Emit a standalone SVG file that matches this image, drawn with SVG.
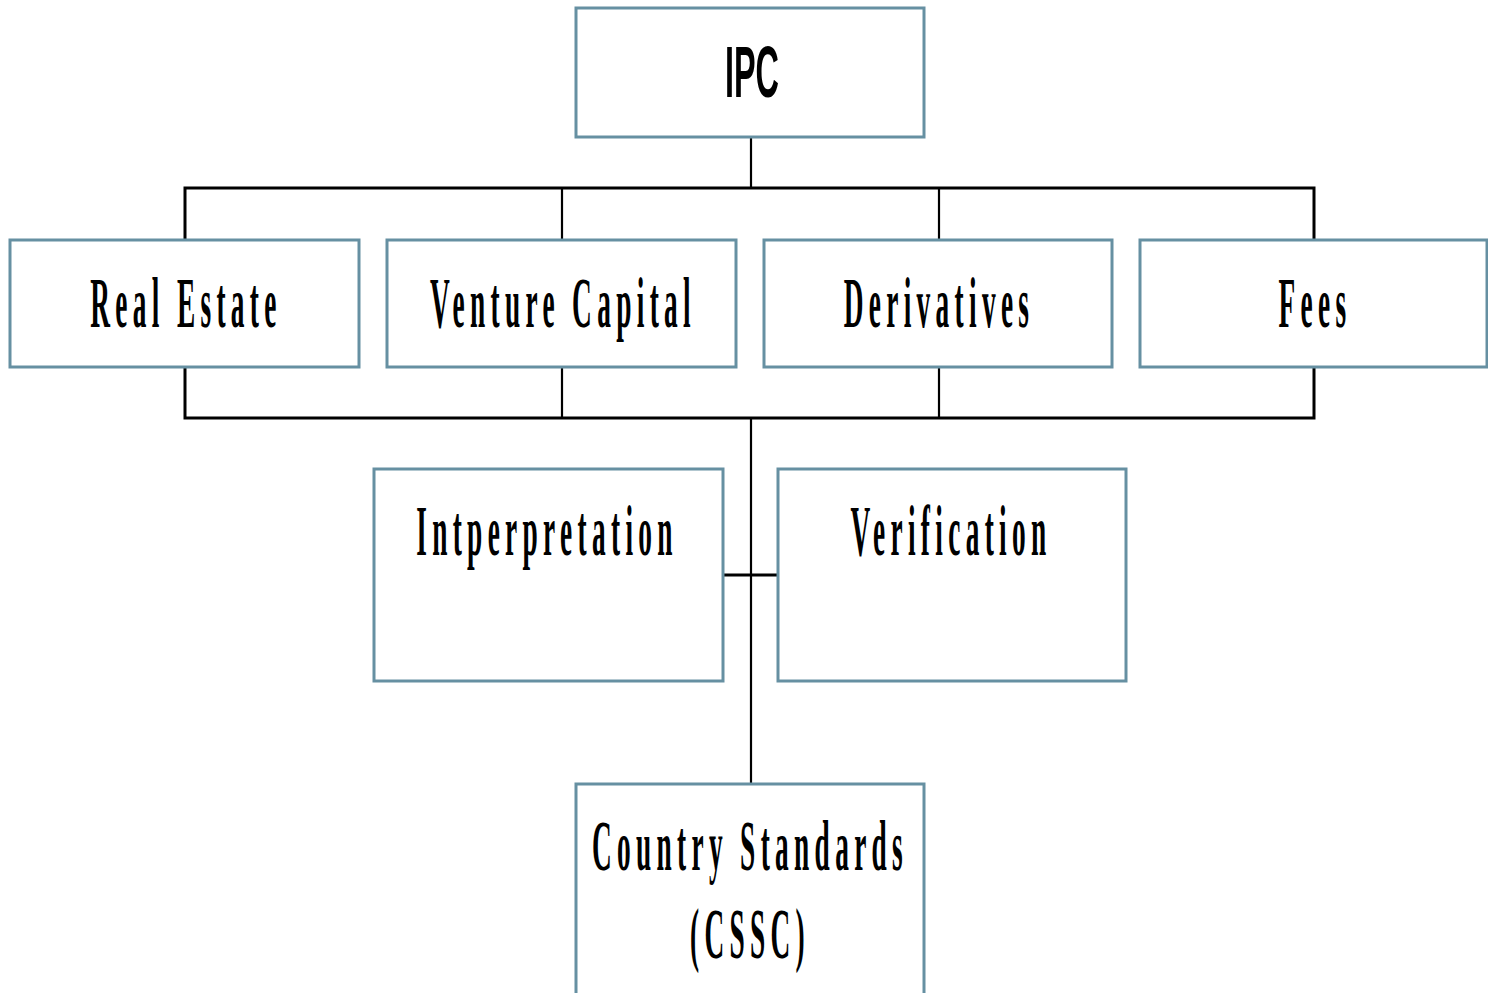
<svg xmlns="http://www.w3.org/2000/svg" width="1488" height="993" viewBox="0 0 1488 993">
<style>
.box{fill:#ffffff;stroke:#6690a2;stroke-width:3}
.bus{fill:none;stroke:#000000;stroke-width:3;stroke-linejoin:miter}
.stem{fill:none;stroke:#000000;stroke-width:2.2}
.lbl{font-family:"Liberation Serif","Times New Roman",serif;font-weight:bold;font-size:72px;fill:#000000;text-anchor:middle;letter-spacing:14px}
.sans{font-family:"Liberation Sans",Arial,sans-serif;font-weight:bold;font-size:72px;fill:#000000;text-anchor:middle}
</style>
<rect width="1488" height="993" fill="#ffffff"/>
<g id="connectors">
<line class="stem" x1="751" y1="137" x2="751" y2="188"/>
<polyline class="bus" points="185,240 185,188 1314,188 1314,240"/>
<line class="stem" x1="562" y1="188" x2="562" y2="240"/>
<line class="stem" x1="939" y1="188" x2="939" y2="240"/>
<polyline class="bus" points="185,367 185,418 1314,418 1314,367"/>
<line class="stem" x1="562" y1="367" x2="562" y2="418"/>
<line class="stem" x1="939" y1="367" x2="939" y2="418"/>
<line class="stem" x1="751" y1="418" x2="751" y2="784"/>
<line class="bus" x1="723" y1="575" x2="778" y2="575"/>
</g>
<g id="ipc">
<rect class="box" x="576" y="8" width="348" height="129"/>
<text class="sans" transform="translate(752,97) scale(0.45,1)">IPC</text>
</g>
<g id="real-estate">
<rect class="box" x="10" y="240" width="349" height="127"/>
<text class="lbl" transform="translate(186,327) scale(0.38,1)">Real Estate</text>
</g>
<g id="venture-capital">
<rect class="box" x="387" y="240" width="349" height="127"/>
<text class="lbl" transform="translate(563,327) scale(0.38,1)">Venture Capital</text>
</g>
<g id="derivatives">
<rect class="box" x="764" y="240" width="348" height="127"/>
<text class="lbl" transform="translate(939,327) scale(0.38,1)">Derivatives</text>
</g>
<g id="fees">
<rect class="box" x="1140" y="240" width="347" height="127"/>
<text class="lbl" transform="translate(1315,327) scale(0.38,1)">Fees</text>
</g>
<g id="interpretation">
<rect class="box" x="374" y="469" width="349" height="212"/>
<text class="lbl" transform="translate(547,555) scale(0.38,1)">Intperpretation</text>
</g>
<g id="verification">
<rect class="box" x="778" y="469" width="348" height="212"/>
<text class="lbl" transform="translate(951,555) scale(0.38,1)">Verification</text>
</g>
<g id="country-standards">
<rect class="box" x="576" y="784" width="348" height="240"/>
<text class="lbl" transform="translate(750,870) scale(0.38,1)">Country Standards</text>
<text class="lbl" transform="translate(750,958) scale(0.38,1)">(CSSC)</text>
</g>
</svg>
